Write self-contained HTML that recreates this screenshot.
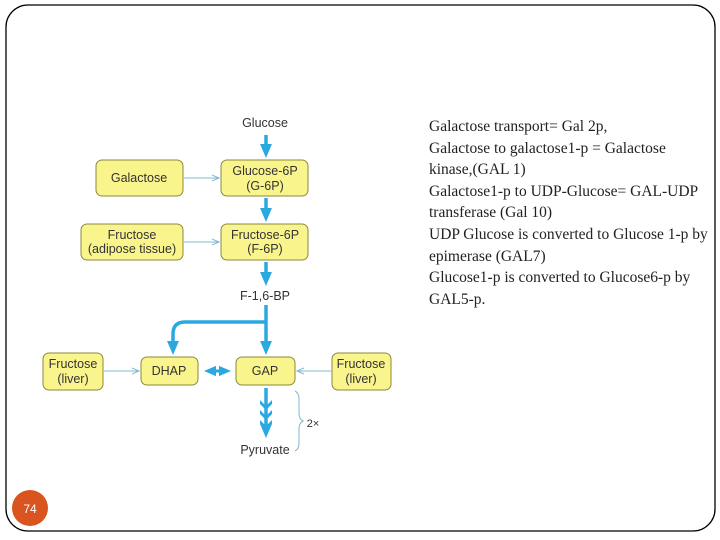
<!DOCTYPE html>
<html><head><meta charset="utf-8"><style>
html,body{margin:0;padding:0;background:#fff;}
body{width:720px;height:540px;overflow:hidden;position:relative;}
.t{position:absolute;left:429px;top:116px;font-family:"Liberation Serif",serif;font-size:15.5px;line-height:21.6px;color:#222;white-space:nowrap;}
</style></head><body>
<svg width="720" height="540" style="position:absolute;left:0;top:0" font-family="Liberation Sans, sans-serif">
<defs>
<marker id="ab" markerWidth="4" markerHeight="4" refX="2" refY="2" orient="auto" markerUnits="strokeWidth"><path d="M0,0.3 L4,2 L0,3.7 z" fill="#2aa8e0"/></marker>
<marker id="abs" markerWidth="4" markerHeight="4" refX="2" refY="2" orient="auto-start-reverse" markerUnits="strokeWidth"><path d="M0,0.3 L4,2 L0,3.7 z" fill="#2aa8e0"/></marker>
<marker id="at" markerWidth="8" markerHeight="8" refX="7" refY="4" orient="auto" markerUnits="userSpaceOnUse"><path d="M0,1 L7,4 L0,7" fill="none" stroke="#7fb8d0" stroke-width="1"/></marker>
</defs>
<rect x="6" y="5" width="709" height="526" rx="22" fill="none" stroke="#000" stroke-width="1.3"/>
<g stroke="#8a8a3a" stroke-width="1" fill="#faf48c">
<rect x="96" y="160" width="87" height="36" rx="6"/>
<rect x="221" y="160" width="87" height="36" rx="6"/>
<rect x="81" y="224" width="102" height="36" rx="6"/>
<rect x="221" y="224" width="87" height="36" rx="6"/>
<rect x="43" y="353" width="60" height="37" rx="6"/>
<rect x="141" y="357" width="57" height="28" rx="6"/>
<rect x="236" y="357" width="59" height="28" rx="6"/>
<rect x="332" y="353" width="59" height="37" rx="6"/>
</g>
<g font-size="12.5" fill="#333" text-anchor="middle">
<text x="265" y="127">Glucose</text>
<text x="139" y="182">Galactose</text>
<text x="265" y="175">Glucose-6P</text><text x="265" y="190">(G-6P)</text>
<text x="132" y="239">Fructose</text><text x="132" y="253">(adipose tissue)</text>
<text x="265" y="239">Fructose-6P</text><text x="265" y="253">(F-6P)</text>
<text x="265" y="300">F-1,6-BP</text>
<text x="73" y="368">Fructose</text><text x="73" y="383">(liver)</text>
<text x="169" y="375">DHAP</text>
<text x="265" y="375">GAP</text>
<text x="361" y="368">Fructose</text><text x="361" y="383">(liver)</text>
<text x="265" y="454">Pyruvate</text>
<text x="313" y="427" font-size="11">2×</text>
</g>
<g stroke="#7fb8d0" stroke-width="1" fill="none">
<line x1="184" y1="178" x2="219" y2="178" marker-end="url(#at)"/>
<line x1="184" y1="242" x2="219" y2="242" marker-end="url(#at)"/>
<line x1="104" y1="371" x2="139" y2="371" marker-end="url(#at)"/>
<line x1="331" y1="371" x2="297" y2="371" marker-end="url(#at)"/>
<path d="M295,391 q4,2 4,8 v14 q0,6 4,8 q-4,2 -4,8 v14 q0,6 -4,8"/>
</g>
<g stroke="#2aa8e0" stroke-width="3.5" fill="none">
<line x1="266" y1="135" x2="266" y2="151" marker-end="url(#ab)"/>
<line x1="266" y1="198" x2="266" y2="215" marker-end="url(#ab)"/>
<line x1="266" y1="262" x2="266" y2="279" marker-end="url(#ab)"/>
<line x1="266" y1="305" x2="266" y2="348" marker-end="url(#ab)"/>
<path d="M266,322 H185 q-12,0 -12,12 V348" marker-end="url(#ab)"/>
<line x1="210" y1="371" x2="225" y2="371" marker-end="url(#ab)" marker-start="url(#abs)" stroke-width="3"/>
<line x1="266" y1="388" x2="266" y2="431" marker-end="url(#ab)"/>
</g>
<g fill="#2aa8e0">
<path d="M260,400 L266,406 L272,400 L272,404 L266,410 L260,404z"/>
<path d="M260,410 L266,416 L272,410 L272,414 L266,420 L260,414z"/>
<path d="M260,420 L266,426 L272,420 L272,424 L266,430 L260,424z"/>
</g>
<circle cx="30" cy="508" r="18" fill="#d9541e"/>
<text x="30" y="513" font-size="12" fill="#fff" text-anchor="middle">74</text>
</svg>
<div class="t">Galactose transport= Gal 2p,<br>Galactose to galactose1-p = Galactose<br>kinase,(GAL 1)<br>Galactose1-p to UDP-Glucose= GAL-UDP<br>transferase (Gal 10)<br>UDP Glucose is converted to Glucose 1-p by<br>epimerase (GAL7)<br>Glucose1-p is converted to Glucose6-p by<br>GAL5-p.</div>
</body></html>
